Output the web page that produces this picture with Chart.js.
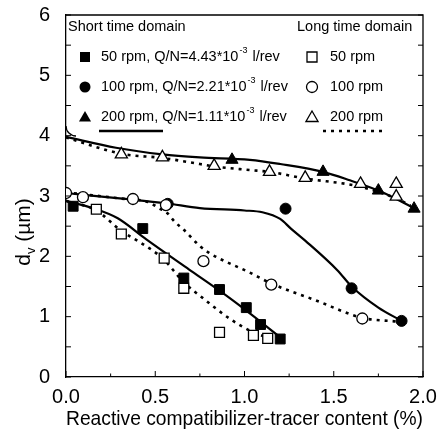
<!DOCTYPE html>
<html>
<head>
<meta charset="utf-8">
<script src="https://cdn.jsdelivr.net/npm/chart.js@4.4.0/dist/chart.umd.min.js"></script>
<style>
html, body { margin: 0; padding: 0; background: #fff; }
</style>
</head>
<body>
<canvas id="chartCanvas" width="439" height="436"></canvas>
<script>
// Points mesurés - domaine temps court (symboles pleins)
const x50Short = [0.04, 0.43, 0.66, 0.86, 1.01, 1.09, 1.20];
const d50Short = [2.83, 2.46, 1.64, 1.45, 1.15, 0.87, 0.63];
const x100Short = [0.57, 1.23, 1.60, 1.88];
const d100Short = [2.87, 2.79, 1.47, 0.93];
const x200Short = [0.93, 1.44, 1.75, 1.95];
const d200Short = [3.60, 3.40, 3.09, 2.79];

// Points mesurés - domaine temps long (symboles vides)
const x50Long = [0.17, 0.31, 0.55, 0.66, 0.86, 1.05, 1.13];
const d50Long = [2.78, 2.37, 1.97, 1.47, 0.74, 0.69, 0.64];
const x100Long = [0.0, 0.095, 0.375, 0.56, 0.77, 1.15, 1.66];
const d100Long = [3.05, 2.98, 2.95, 2.85, 1.92, 1.53, 0.97];
const x200Long = [0.31, 0.54, 0.83, 1.14, 1.34, 1.65, 1.85, 1.85];
const d200Long = [3.69, 3.64, 3.50, 3.40, 3.30, 3.20, 3.20, 2.99];

// Courbes de tendance
const fit50ShortX = [0, 0.15, 0.29, 0.45, 0.69, 0.86, 1.01, 1.20];
const fit50ShortY = [2.92, 2.80, 2.63, 2.28, 1.78, 1.43, 1.10, 0.66];
const fit100ShortX = [0, 0.3, 0.56, 0.75, 1.0, 1.1, 1.2, 1.26, 1.34, 1.52, 1.6, 1.75, 1.88];
const fit100ShortY = [3.05, 2.96, 2.88, 2.80, 2.76, 2.73, 2.62, 2.46, 2.26, 1.77, 1.50, 1.15, 0.93];
const fit200ShortX = [0, 0.28, 0.54, 0.75, 1.03, 1.2, 1.44, 1.59, 1.75, 1.97];
const fit200ShortY = [3.98, 3.80, 3.69, 3.64, 3.60, 3.53, 3.40, 3.26, 3.09, 2.77];

const fit50LongX = [0, 0.17, 0.31, 0.41, 0.54, 0.66, 0.77, 0.92, 1.03, 1.14];
const fit50LongY = [2.92, 2.76, 2.42, 2.24, 1.97, 1.57, 1.30, 0.96, 0.77, 0.64];
const fit100LongX = [0, 0.3, 0.46, 0.52, 0.57, 0.61, 0.66, 0.75, 0.8, 1.03, 1.15, 1.4, 1.66, 1.85];
const fit100LongY = [3.06, 2.96, 2.90, 2.80, 2.71, 2.57, 2.44, 2.17, 2.06, 1.73, 1.55, 1.27, 0.98, 0.92];
const fit200LongX = [0, 0.31, 0.54, 0.75, 0.83, 1.03, 1.14, 1.34, 1.64, 1.85, 1.93];
const fit200LongY = [3.97, 3.70, 3.63, 3.53, 3.49, 3.43, 3.40, 3.29, 3.16, 2.96, 2.84];

// Graduations
const xTickLabels = [0, 0.5, 1.0, 1.5, 2.0];
const yTickLabels = [0, 1, 2, 3, 4, 5, 6];
const xTickMarks = [0, 0.25, 0.5, 0.75, 1.0, 1.25, 1.5, 1.75, 2.0];
const yTickMarks = [0, 0.5, 1, 1.5, 2, 2.5, 3, 3.5, 4, 4.5, 5, 5.5, 6];

const FONT = "'Liberation Sans', Arial, sans-serif";
const LEG = '14.5px ' + FONT;
Chart.defaults.font.family = FONT;
Chart.defaults.color = '#000';

function pts(xs, ys) {
    return xs.map((x, i) => ({ x: x, y: ys[i] }));
}

function curve(xs, ys, dotted) {
    return {
        data: pts(xs, ys),
        showLine: true,
        pointRadius: 0,
        borderColor: '#000',
        borderWidth: dotted ? 2.6 : 2.2,
        borderDash: dotted ? [3, 5] : [],
        cubicInterpolationMode: 'monotone',
        order: 10
    };
}

function markers(xs, ys, style, filled, radius) {
    return {
        data: pts(xs, ys),
        showLine: false,
        pointStyle: style,
        pointRadius: radius,
        pointHoverRadius: radius,
        pointBackgroundColor: filled ? '#000' : '#fff',
        pointBorderColor: '#000',
        pointBorderWidth: filled ? 1 : 1.3,
        order: filled ? 5 : 1
    };
}

// Petits dessins de symboles pour la légende
function drawMarker(ctx, style, x, y, filled) {
    ctx.beginPath();
    if (style === 'rect') {
        ctx.rect(x - 5, y - 5, 10, 10);
    } else if (style === 'circle') {
        ctx.arc(x, y, 5.5, 0, Math.PI * 2);
    } else {
        const r = 7;
        ctx.moveTo(x, y - r);
        ctx.lineTo(x + r * 0.866, y + r / 2);
        ctx.lineTo(x - r * 0.866, y + r / 2);
        ctx.closePath();
    }
    if (filled) {
        ctx.fillStyle = '#000';
        ctx.fill();
    } else {
        ctx.fillStyle = '#fff';
        ctx.fill();
        ctx.lineWidth = 1.3;
        ctx.strokeStyle = '#000';
        ctx.stroke();
    }
}

function drawSupText(ctx, x, y, base, sup, rest) {
    ctx.font = LEG;
    ctx.fillText(base, x, y);
    x += ctx.measureText(base).width;
    ctx.font = '9px ' + FONT;
    ctx.fillText(sup, x + 1, y - 6);
    x += ctx.measureText(sup).width + 2;
    ctx.font = LEG;
    ctx.fillText(rest, x, y);
}

const decorPlugin = {
    id: 'decor',
    afterDraw(chart) {
        const ctx = chart.ctx;
        const a = chart.chartArea;
        const sx = chart.scales.x;
        const sy = chart.scales.y;
        ctx.save();
        ctx.strokeStyle = '#000';
        ctx.lineWidth = 1.3;

        // cadre haut et droite
        ctx.beginPath();
        ctx.moveTo(a.left, a.top);
        ctx.lineTo(a.right, a.top);
        ctx.lineTo(a.right, a.bottom);
        ctx.stroke();

        // graduations vers l'intérieur
        ctx.lineWidth = 1;
        xTickMarks.forEach(v => {
            const px = sx.getPixelForValue(v);
            const len = (v * 2) % 1 === 0 ? 6 : 3.5;
            ctx.beginPath();
            ctx.moveTo(px, a.bottom);
            ctx.lineTo(px, a.bottom - len);
            ctx.stroke();
        });
        yTickMarks.forEach(v => {
            const py = sy.getPixelForValue(v);
            ctx.beginPath();
            ctx.moveTo(a.left, py);
            ctx.lineTo(a.left + 5, py);
            ctx.moveTo(a.right, py);
            ctx.lineTo(a.right - 5, py);
            ctx.stroke();
        });

        // coin arrondi du cadre de légende
        ctx.lineWidth = 1.3;
        ctx.beginPath();
        ctx.arc(a.left + 10, a.top + 111, 10, Math.PI, Math.PI * 0.5, true);
        ctx.stroke();

        // légende
        const L = a.left;
        const T = a.top;
        ctx.fillStyle = '#000';
        ctx.textBaseline = 'middle';
        ctx.textAlign = 'left';
        ctx.font = LEG;
        ctx.fillText('Short time domain', L + 2, T + 12);
        ctx.fillText('Long time domain', L + 231, T + 12);

        const rows = [
            { style: 'rect', q: '50 rpm, Q/N=4.43*10', rpm: '50 rpm' },
            { style: 'circle', q: '100 rpm, Q/N=2.21*10', rpm: '100 rpm' },
            { style: 'triangle', q: '200 rpm, Q/N=1.11*10', rpm: '200 rpm' }
        ];
        rows.forEach((r, i) => {
            const y = T + 42 + i * 30;
            drawMarker(ctx, r.style, L + 19, y + (r.style === 'triangle' ? 1 : 0), true);
            ctx.fillStyle = '#000';
            drawSupText(ctx, L + 35, y, r.q, '-3', ' l/rev');
            drawMarker(ctx, r.style, L + 246, y + (r.style === 'triangle' ? 1 : 0), false);
            ctx.fillStyle = '#000';
            ctx.font = LEG;
            ctx.fillText(r.rpm, L + 264, y);
        });

        // échantillons de traits
        ctx.lineWidth = 2.4;
        ctx.beginPath();
        ctx.moveTo(L + 33, T + 116);
        ctx.lineTo(L + 97, T + 116);
        ctx.stroke();
        ctx.setLineDash([3, 5]);
        ctx.lineWidth = 2.6;
        ctx.beginPath();
        ctx.moveTo(L + 257, T + 116);
        ctx.lineTo(L + 318, T + 116);
        ctx.stroke();
        ctx.setLineDash([]);

        // titre de l'axe y avec indice
        ctx.translate(24, 232);
        ctx.rotate(-Math.PI / 2);
        ctx.font = '21px ' + FONT;
        const wD = ctx.measureText('d').width;
        const wRest = ctx.measureText(' (\u00b5m)').width;
        ctx.font = '13px ' + FONT;
        const wV = ctx.measureText('v').width;
        let x0 = -(wD + wV + wRest) / 2;
        ctx.font = '21px ' + FONT;
        ctx.fillText('d', x0, 0);
        ctx.font = '13px ' + FONT;
        ctx.fillText('v', x0 + wD, 7);
        ctx.font = '21px ' + FONT;
        ctx.fillText(' (\u00b5m)', x0 + wD + wV, 0);
        ctx.restore();
    }
};

var canvas = document.getElementById('chartCanvas');

var chart = new Chart(canvas, {
    type: 'scatter',
    data: {
        datasets: [
            curve(fit50ShortX, fit50ShortY, false),
            curve(fit100ShortX, fit100ShortY, false),
            curve(fit200ShortX, fit200ShortY, false),
            curve(fit50LongX, fit50LongY, true),
            curve(fit100LongX, fit100LongY, true),
            curve(fit200LongX, fit200LongY, true),
            markers(x50Short, d50Short, 'rect', true, 7),
            markers(x100Short, d100Short, 'circle', true, 5.5),
            markers(x200Short, d200Short, 'triangle', true, 7),
            markers(x50Long, d50Long, 'rect', false, 7),
            markers(x100Long, d100Long, 'circle', false, 5.5),
            markers(x200Long, d200Long, 'triangle', false, 7)
        ]
    },
    options: {
        responsive: false,
        animation: false,
        layout: { padding: { top: 15, right: 16, left: 0, bottom: 0 } },
        plugins: {
            legend: { display: false },
            tooltip: { enabled: false }
        },
        scales: {
            x: {
                type: 'linear',
                min: 0,
                max: 2,
                afterBuildTicks: s => { s.ticks = xTickLabels.map(v => ({ value: v })); },
                afterFit: s => { s.height = 59; s.paddingLeft = 0; s.paddingRight = 0; },
                grid: { display: false, drawTicks: false },
                border: { display: true, color: '#000', width: 1.3 },
                ticks: {
                    padding: 8,
                    font: { size: 20 },
                    color: '#000',
                    maxRotation: 0,
                    callback: v => Number(v).toFixed(1)
                },
                title: {
                    display: true,
                    text: 'Reactive compatibilizer-tracer content (%)',
                    font: { size: 21 },
                    color: '#000',
                    padding: { top: 0, bottom: 4 }
                }
            },
            y: {
                type: 'linear',
                min: 0,
                max: 6,
                afterBuildTicks: s => { s.ticks = yTickLabels.map(v => ({ value: v })); },
                afterFit: s => { s.width = 66; s.paddingTop = 0; s.paddingBottom = 0; },
                grid: { display: false, drawTicks: false },
                border: { display: true, color: '#000', width: 1.3 },
                ticks: {
                    padding: 16,
                    font: { size: 20 },
                    color: '#000',
                    callback: v => String(v)
                }
            }
        }
    },
    plugins: [decorPlugin]
});
</script>
</body>
</html>
